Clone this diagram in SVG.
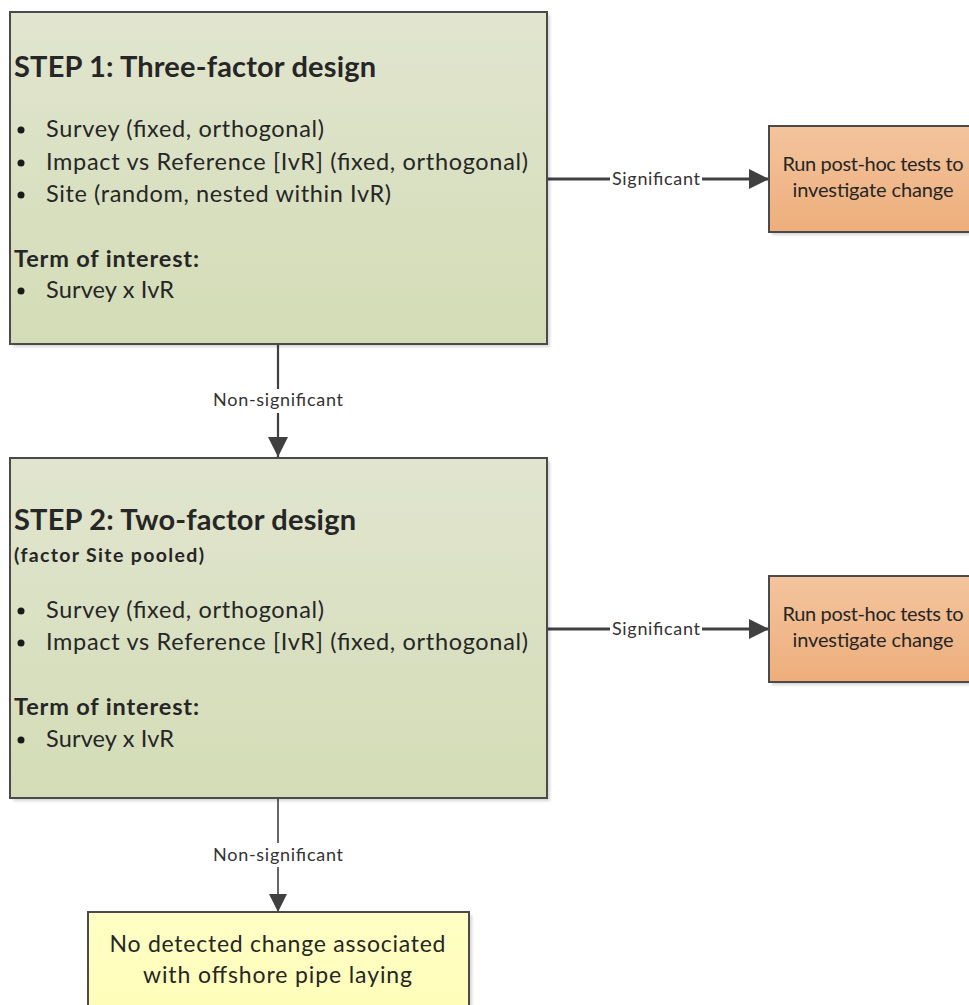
<svg xmlns="http://www.w3.org/2000/svg" width="969" height="1005" viewBox="0 0 969 1005">
<style>
  text { font-family: Lato, "Open Sans", "Liberation Sans", sans-serif; fill: #262626; }
  .title { font-size: 29px; font-weight: bold; }
  .body { font-size: 23.5px; }
  .bold { font-size: 23.5px; font-weight: bold; }
  .sub { font-size: 19.5px; font-weight: bold; }
  .orange { font-size: 20px; text-anchor: middle; }
  .yellow { font-size: 23px; text-anchor: middle; }
  .lbl { font-size: 18px; text-anchor: middle; fill: #333; }
  .frame { stroke: #4a4a4a; stroke-width: 2; }
  .shadow { fill: #000; opacity: 0.16; filter: url(#blur); }
  .conn { stroke: #404040; fill: none; }
  .dot { fill: #1a1a1a; }
</style>
<defs>
  <linearGradient id="green" x1="0" y1="0" x2="0" y2="1">
    <stop offset="0" stop-color="#e1e5cf"/>
    <stop offset="1" stop-color="#d3dcb6"/>
  </linearGradient>
  <linearGradient id="orange" x1="0" y1="0" x2="0" y2="1">
    <stop offset="0" stop-color="#f3c49e"/>
    <stop offset="1" stop-color="#eeae7b"/>
  </linearGradient>
  <linearGradient id="yellow" x1="0" y1="0" x2="0" y2="1">
    <stop offset="0" stop-color="#ffffc6"/>
    <stop offset="1" stop-color="#fffcb4"/>
  </linearGradient>
  <filter id="blur" x="-5%" y="-5%" width="110%" height="110%">
    <feGaussianBlur stdDeviation="1.5"/>
  </filter>
  <marker id="arrow" viewBox="0 0 10 10" refX="10" refY="5" markerWidth="22" markerHeight="20" markerUnits="userSpaceOnUse" orient="auto">
    <path d="M0,0 L10,5 L0,10 z" fill="#404040"/>
  </marker>
  <marker id="arrowS" viewBox="0 0 10 10" refX="10" refY="5" markerWidth="19" markerHeight="18" markerUnits="userSpaceOnUse" orient="auto">
    <path d="M0,0 L10,5 L0,10 z" fill="#404040"/>
  </marker>
</defs>
<rect width="969" height="1005" fill="#ffffff"/>

<g id="connectors">
  <line class="conn" x1="547" y1="179" x2="769" y2="179" stroke-width="3" marker-end="url(#arrow)"/>
  <rect x="610" y="168" width="92" height="22" fill="#fff"/>
  <text class="lbl" x="656" y="185" textLength="88">Significant</text>

  <line class="conn" x1="547" y1="629" x2="769" y2="629" stroke-width="3" marker-end="url(#arrow)"/>
  <rect x="610" y="618" width="92" height="22" fill="#fff"/>
  <text class="lbl" x="656" y="635" textLength="88">Significant</text>

  <line class="conn" x1="278" y1="344" x2="278" y2="457" stroke-width="2.2" marker-end="url(#arrow)"/>
  <rect x="210" y="389" width="136" height="24" fill="#fff"/>
  <text class="lbl" x="278" y="406" textLength="130">Non-significant</text>

  <line class="conn" x1="278" y1="798" x2="278" y2="912" stroke-width="1.6" marker-end="url(#arrowS)"/>
  <rect x="210" y="843" width="136" height="24" fill="#fff"/>
  <text class="lbl" x="278" y="861" textLength="130">Non-significant</text>
</g>

<g id="step1">
  <rect class="shadow" x="13" y="15" width="537" height="332"/>
  <rect class="frame" x="10" y="12" width="537" height="332" fill="url(#green)"/>
  <text class="title" x="14" y="77" textLength="362">STEP 1: Three-factor design</text>
  <circle class="dot" cx="21" cy="130" r="3.5"/>
  <text class="body" x="46" y="137" textLength="278">Survey (fixed, orthogonal)</text>
  <circle class="dot" cx="21" cy="163" r="3.5"/>
  <text class="body" x="46" y="170" textLength="482">Impact vs Reference [IvR] (fixed, orthogonal)</text>
  <circle class="dot" cx="21" cy="195" r="3.5"/>
  <text class="body" x="46" y="202" textLength="345">Site (random, nested within IvR)</text>
  <text class="bold" x="14" y="267" textLength="185">Term of interest:</text>
  <circle class="dot" cx="21" cy="291" r="3.5"/>
  <text class="body" x="46" y="298" textLength="128">Survey x IvR</text>
</g>

<g id="posthoc1">
  <rect class="shadow" x="772" y="129" width="210" height="106"/>
  <rect class="frame" x="769" y="126" width="210" height="106" fill="url(#orange)"/>
  <text class="orange" x="873" y="171" textLength="181">Run post-hoc tests to</text>
  <text class="orange" x="873" y="197" textLength="161">investigate change</text>
</g>

<g id="step2">
  <rect class="shadow" x="13" y="461" width="537" height="340"/>
  <rect class="frame" x="10" y="458" width="537" height="340" fill="url(#green)"/>
  <text class="title" x="14" y="530" textLength="342">STEP 2: Two-factor design</text>
  <text class="sub" x="14" y="562" textLength="190">(factor Site pooled)</text>
  <circle class="dot" cx="21" cy="611" r="3.5"/>
  <text class="body" x="46" y="618" textLength="278">Survey (fixed, orthogonal)</text>
  <circle class="dot" cx="21" cy="643" r="3.5"/>
  <text class="body" x="46" y="650" textLength="482">Impact vs Reference [IvR] (fixed, orthogonal)</text>
  <text class="bold" x="14" y="715" textLength="185">Term of interest:</text>
  <circle class="dot" cx="21" cy="740" r="3.5"/>
  <text class="body" x="46" y="747" textLength="128">Survey x IvR</text>
</g>

<g id="posthoc2">
  <rect class="shadow" x="772" y="579" width="210" height="106"/>
  <rect class="frame" x="769" y="576" width="210" height="106" fill="url(#orange)"/>
  <text class="orange" x="873" y="621" textLength="181">Run post-hoc tests to</text>
  <text class="orange" x="873" y="647" textLength="161">investigate change</text>
</g>

<g id="nochange">
  <rect class="shadow" x="91" y="915" width="381" height="120"/>
  <rect class="frame" x="88" y="912" width="381" height="120" fill="url(#yellow)"/>
  <text class="yellow" x="277.5" y="952" textLength="336">No detected change associated</text>
  <text class="yellow" x="277.5" y="983" textLength="269">with offshore pipe laying</text>
</g>
</svg>
